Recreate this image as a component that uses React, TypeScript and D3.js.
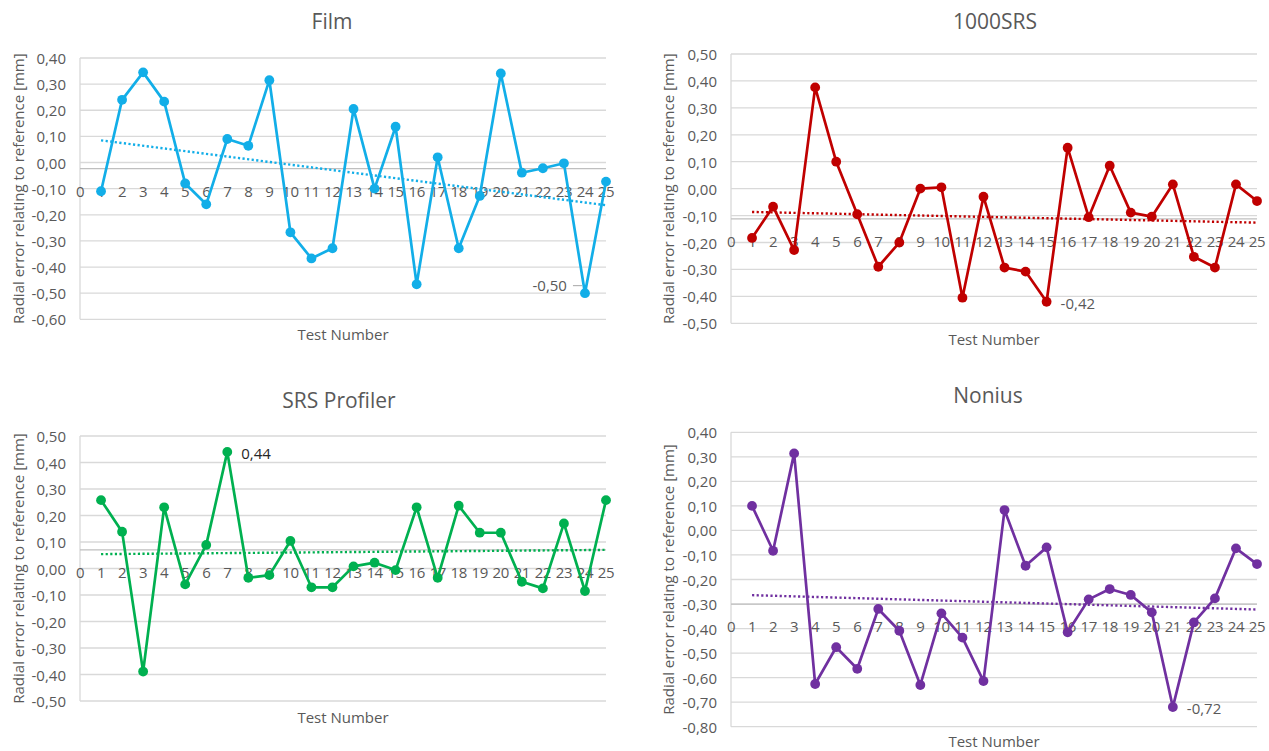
import * as d3 from "d3";

// test numbers 1..25
const testNumbers = [1, 2, 3, 4, 5, 6, 7, 8, 9, 10, 11, 12, 13, 14, 15, 16, 17, 18, 19, 20, 21, 22, 23, 24, 25];
const xTicks = [0, 1, 2, 3, 4, 5, 6, 7, 8, 9, 10, 11, 12, 13, 14, 15, 16, 17, 18, 19, 20, 21, 22, 23, 24, 25];

const titles = ["Film", "1000SRS", "SRS Profiler", "Nonius"];
const colors = ["#12aee8", "#c00000", "#00b050", "#7030a0"];

const filmValues = [-0.11, 0.24, 0.345, 0.233, -0.08, -0.16, 0.09, 0.064, 0.315, -0.267, -0.367, -0.328, 0.205, -0.1, 0.137, -0.466, 0.02, -0.328, -0.128, 0.341, -0.039, -0.022, -0.003, -0.5, -0.073];
const srs1000Values = [-0.183, -0.067, -0.228, 0.376, 0.1, -0.095, -0.29, -0.2, 0.0, 0.005, -0.405, -0.03, -0.293, -0.308, -0.42, 0.152, -0.106, 0.085, -0.089, -0.104, 0.016, -0.253, -0.293, 0.016, -0.046];
const profilerValues = [0.258, 0.139, -0.389, 0.231, -0.06, 0.089, 0.44, -0.035, -0.025, 0.104, -0.071, -0.071, 0.008, 0.022, -0.006, 0.231, -0.035, 0.237, 0.135, 0.135, -0.05, -0.075, 0.17, -0.085, 0.258];
const noniusValues = [0.1, -0.083, 0.314, -0.626, -0.476, -0.564, -0.32, -0.409, -0.63, -0.338, -0.437, -0.614, 0.083, -0.144, -0.069, -0.415, -0.281, -0.239, -0.263, -0.334, -0.72, -0.375, -0.277, -0.073, -0.137];

const yDomains: [number, number][] = [[-0.6, 0.4], [-0.5, 0.5], [-0.5, 0.5], [-0.8, 0.4]];
// value where the horizontal axis crosses
const axisCross = [-0.023, -0.112, 0.07, -0.3];
// index of the labelled point per panel
const labelIndex = [23, 14, 6, 20];

const seriesList = [filmValues, srs1000Values, profilerValues, noniusValues];

const yTitle = "Radial error relating to reference [mm]";
const xTitle = "Test Number";
const font = "'Open Sans', 'Noto Sans', sans-serif";
const textGray = "#595959";

// plot rectangles: left, right, top, bottom
const rects = [
  { l: 80, r: 606, t: 58, b: 319.3, titleX: 332, titleY: 21, yTitleX: 18, xTitleY: 334 },
  { l: 731, r: 1257, t: 54, b: 323.3, titleX: 995, titleY: 21, yTitleX: 668, xTitleY: 339 },
  { l: 80, r: 606, t: 436, b: 701, titleX: 339, titleY: 400, yTitleX: 18, xTitleY: 717 },
  { l: 731, r: 1257, t: 432.3, b: 726.7, titleX: 988, titleY: 395, yTitleX: 668, xTitleY: 741 },
];

const fmt = (v: number) => d3.format(".2f")(v).replace(".", ",").replace("−", "-");

function trend(values: number[]) {
  const n = values.length;
  const mx = d3.mean(testNumbers)!;
  const my = d3.mean(values)!;
  let sxy = 0, sxx = 0;
  testNumbers.forEach((x, i) => {
    sxy += (x - mx) * (values[i] - my);
    sxx += (x - mx) * (x - mx);
  });
  const slope = sxy / sxx;
  const b = my - slope * mx;
  return [testNumbers[0], testNumbers[n - 1]].map((x) => ({ x, y: b + slope * x }));
}

function Panel({ idx }: { idx: number }) {
  const rc = rects[idx];
  const values = seriesList[idx];
  const color = colors[idx];
  const x = d3.scaleLinear().domain([0, 25]).range([rc.l, rc.r]);
  const y = d3.scaleLinear().domain(yDomains[idx]).range([rc.b, rc.t]);
  const yTicks = d3.range(Math.round(yDomains[idx][0] * 10), Math.round(yDomains[idx][1] * 10) + 1).map((d) => d / 10);
  const pts = testNumbers.map((t, i) => ({ x: t, y: values[i] }));
  const line = d3.line<{ x: number; y: number }>().x((d) => x(d.x)).y((d) => y(d.y));
  const axisY = y(axisCross[idx]);
  const li = labelIndex[idx];
  const lx = x(testNumbers[li]);
  const ly = y(values[li]);

  return (
    <g>
      <text x={rc.titleX} y={rc.titleY} textAnchor="middle" dominantBaseline="central" fontSize={21} fill={textGray} fontFamily={font}>{titles[idx]}</text>
      {yTicks.map((t) => (
        <g key={t}>
          <line x1={rc.l} x2={rc.r} y1={y(t)} y2={y(t)} stroke="#d9d9d9" strokeWidth={1.3} />
          <text x={rc.l - 14} y={y(t)} textAnchor="end" dominantBaseline="central" fontSize={15} fill={textGray} fontFamily={font}>{fmt(t)}</text>
        </g>
      ))}
      <line x1={rc.l} x2={rc.l} y1={rc.t} y2={rc.b} stroke="#d9d9d9" strokeWidth={1.3} />
      <line x1={rc.l} x2={rc.r} y1={axisY} y2={axisY} stroke="#bfbfbf" strokeWidth={1.3} />
      {xTicks.map((t) => (
        <text key={t} x={x(t)} y={axisY + 22} textAnchor="middle" dominantBaseline="central" fontSize={15} fill={textGray} fontFamily={font} letterSpacing={-0.4}>{t}</text>
      ))}
      <text transform={`translate(${rc.yTitleX},${(rc.t + rc.b) / 2}) rotate(-90)`} textAnchor="middle" dominantBaseline="central" fontSize={15} fill={textGray} fontFamily={font}>{yTitle}</text>
      <text x={(rc.l + rc.r) / 2} y={rc.xTitleY} textAnchor="middle" dominantBaseline="central" fontSize={15} fill={textGray} fontFamily={font}>{xTitle}</text>
      <path d={line(pts) || ""} fill="none" stroke={color} strokeWidth={2.7} strokeLinejoin="round" />
      {pts.map((p) => (
        <circle key={p.x} cx={x(p.x)} cy={y(p.y)} r={4.9} fill={color} />
      ))}
      <path d={line(trend(values)) || ""} fill="none" stroke={color} strokeWidth={2.4} strokeDasharray="2.2 2.4" />
      {idx === 0 ? (
        <g>
          <text x={lx - 18} y={ly - 8} textAnchor="end" dominantBaseline="central" fontSize={15} fill={textGray} fontFamily={font}>{fmt(values[li])}</text>
          <line x1={lx - 12} x2={lx - 3} y1={ly - 7.5} y2={ly - 7.5} stroke="#a6a6a6" strokeWidth={1} />
        </g>
      ) : (
        <text x={lx + 14} y={ly + 1} textAnchor="start" dominantBaseline="central" fontSize={15} fill={idx === 2 ? "#262626" : textGray} fontFamily={font}>{fmt(values[li])}</text>
      )}
    </g>
  );
}

export default function App() {
  return (
    <svg width={1269} height={751} style={{ position: "absolute", left: 0, top: 0, background: "#fff" }}>
      {[0, 1, 2, 3].map((i) => (
        <Panel key={i} idx={i} />
      ))}
    </svg>
  );
}
